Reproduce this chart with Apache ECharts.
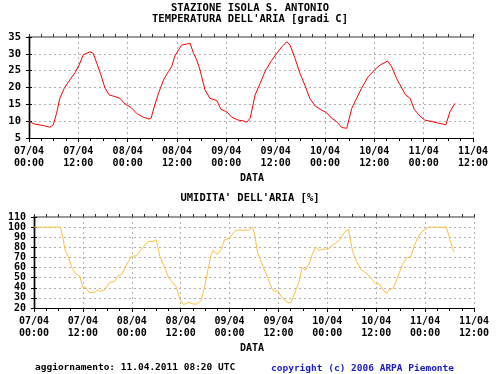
<!DOCTYPE html>
<html>
<head>
<meta charset="utf-8">
<script src="https://cdn.jsdelivr.net/npm/echarts@6/dist/echarts.min.js"></script>
<style>html,body{margin:0;padding:0;background:#fff}#c{width:500px;height:374px}</style>
</head>
<body>
<div id="c"></div>
<script>
const dateLabels = ['07/04\n00:00','07/04\n12:00','08/04\n00:00','08/04\n12:00','09/04\n00:00','09/04\n12:00','10/04\n00:00','10/04\n12:00','11/04\n00:00','11/04\n12:00'];
const tempTicks = [5,10,15,20,25,30,35];
const humTicks = [20,30,40,50,60,70,80,90,100,110];

const tempHours = [0,1.5,3.5,5.1,5.9,6.7,7.5,8.6,10,11.2,12.2,13.2,14.8,15.6,16.5,17.5,18.5,19.5,20.9,22.1,23.4,24.8,26.2,27.8,29.2,29.7,30.6,31.5,32.7,33.9,34.7,35.5,37.1,37.5,39.2,40,40.8,41.6,42.8,44,45.7,46.7,48.1,49.3,50.9,52.1,53,53.8,55,56.2,57.6,59,60.3,61.5,62.7,63.5,64.7,65.9,67.1,68.3,69.6,71.2,72.4,73.6,74.8,76.1,77.3,77.7,78.5,79.7,80.9,82.5,84.2,85.4,86.6,87.2,88.2,89.4,90.7,91.6,92.7,93.7,95.1,96.3,98,99.6,100.8,101.4,102.4,103.6];
const tempValues = [9.9,9.1,8.7,8.2,8.9,12.3,16.8,19.8,22.4,24.4,26.7,29.7,30.6,30.2,27.2,23.7,19.8,17.8,17.3,16.8,15.1,14.1,12.3,11.2,10.6,10.9,14.8,18.3,22.2,24.7,26.2,29.4,32.6,32.9,33.1,30.2,28.2,25.2,19.3,16.8,16.1,13.5,12.8,11.2,10.3,10.1,9.7,10.9,17.8,21.2,25.2,28,30.2,32.1,33.6,32.6,28.7,24.2,20.7,16.8,14.5,13.3,12.5,10.9,9.9,8.1,7.9,8.4,13.8,16.8,19.8,23.2,25.4,26.7,27.4,27.9,26.2,22.7,19.8,17.8,16.8,13.5,11.5,10.3,9.9,9.4,9.1,8.9,12.8,15.3];

const humHours = [0,6.5,7.2,7.6,8.4,9.2,10.2,11.3,11.9,12.7,13.5,14.9,15.6,16.2,17.4,18.6,19.8,20.6,21.5,22.7,23.9,25.2,26.4,28,29.2,30,30.9,32.1,33.1,34.9,35.8,36.7,38,39,40.2,41.1,41.9,42.7,43.5,43.9,44.9,45.7,46.8,48,49.2,50,51.7,52.9,53.6,54.1,54.9,56.2,57.4,58.5,59.3,59.8,60.7,61.5,62.5,63.1,64.3,65.1,65.8,66.6,67.6,68.4,69.2,69.9,70.9,72.1,73.5,74.9,76.2,77.2,77.6,78.2,79.2,80.3,81.5,82.7,83.8,84.7,85.6,86.5,87.2,88.2,89.2,90.4,91.4,92.5,93.3,94.1,95.2,96,96.6,101.2,102.1,103.1];
const humValues = [100,100,87.5,77.6,71,61.1,53.9,51.2,40.8,40.4,35.4,35.4,38.1,36.4,38.1,45.3,46.3,51.9,52.9,62.8,71,71.7,78.3,85.8,85.8,87.5,71,59.5,49.7,40.8,28.9,23.3,25.6,24,24,28.2,41.4,57.9,72.7,76.9,73.3,75.9,87.5,89.1,95.7,97.3,96.7,97.3,100,94.1,74.3,61.1,49.7,38.1,36.4,37.4,31.5,27.5,25,25.6,38.1,46.3,60.5,57.2,64.5,74.3,80.3,76.9,78.3,78.3,82.5,86.8,94.7,98,97.3,75.9,66,57.9,54.6,49.7,44,44,38.8,34.2,38.1,39.8,49.7,62.8,69.4,71,80.9,89.1,95.7,97.3,100,100,87.5,74.9];

const FONT = 'DejaVu Sans Mono';
const chart = echarts.init(document.getElementById('c'), null, {renderer: 'canvas'});

function xAxesFor(gi) {
  return [
    { type: 'value', gridIndex: gi, position: 'bottom', min: 0, max: 108, interval: 12,
      axisLine: { lineStyle: { color: '#000', width: 1 } },
      axisTick: { show: true, length: 4, lineStyle: { color: '#000' } },
      minorTick: { show: true, splitNumber: 4, length: 3, lineStyle: { color: '#000' } },
      splitLine: { show: true, lineStyle: { color: '#b0b0b0', type: [2, 3], width: 1 } },
      axisLabel: { show: true, margin: 7, fontFamily: FONT, fontWeight: 'bold', fontSize: 10, color: '#000', lineHeight: 12,
        showMinLabel: true, showMaxLabel: true, hideOverlap: false,
        formatter: v => dateLabels[Math.round(v / 12)] } },
    { type: 'value', gridIndex: gi, position: 'top', min: 0, max: 108, interval: 12,
      axisLine: { lineStyle: { color: '#999', width: 2 } },
      axisTick: { show: true, length: 3, lineStyle: { color: '#333' } },
      minorTick: { show: true, splitNumber: 4, length: 3, lineStyle: { color: '#333' } },
      splitLine: { show: false }, axisLabel: { show: false } }
  ];
}
function yAxesFor(gi, ticks, fs) {
  const mn = ticks[0], mx = ticks[ticks.length - 1], step = ticks[1] - ticks[0];
  return [
    { type: 'value', gridIndex: gi, position: 'left', min: mn, max: mx, interval: step,
      axisLine: { show: true, lineStyle: { color: '#888', width: 2.5 } },
      axisTick: { show: true, length: 3, lineStyle: { color: '#000' } },
      splitLine: { show: true, lineStyle: { color: '#b0b0b0', type: [2, 3], width: 1 } },
      axisLabel: { margin: 8, fontFamily: FONT, fontWeight: 'bold', fontSize: fs, lineHeight: 9, color: '#000',
        showMinLabel: true, showMaxLabel: true, hideOverlap: false, formatter: v => String(v) } },
    { type: 'value', gridIndex: gi, position: 'right', min: mn, max: mx, interval: step,
      axisLine: { show: true, lineStyle: { color: '#000', width: 1 } },
      axisTick: { show: true, length: 3, lineStyle: { color: '#000' } },
      splitLine: { show: false }, axisLabel: { show: false } }
  ];
}

function txt(x, y, text, opts) {
  return { type: 'text', x: x, y: y, silent: true,
    style: Object.assign({ text: text, font: 'bold 10.5px "DejaVu Sans Mono"', fill: '#000', align: 'center', verticalAlign: 'middle' }, opts || {}) };
}

const option = {
  animation: false,
  backgroundColor: '#fff',
  grid: [
    { left: 29, top: 37, width: 444, height: 101, containLabel: false },
    { left: 34, top: 217, width: 440, height: 91, containLabel: false }
  ],
  xAxis: [...xAxesFor(0), ...xAxesFor(1)],
  yAxis: [...yAxesFor(0, tempTicks, 10.5), ...yAxesFor(1, humTicks, 10)],
  series: [
    { type: 'line', xAxisIndex: 0, yAxisIndex: 0, showSymbol: false, symbol: 'none', smooth: false,
      lineStyle: { color: '#ff0000', width: 1 },
      data: tempHours.map((h, i) => [h, tempValues[i]]) },
    { type: 'line', xAxisIndex: 2, yAxisIndex: 2, showSymbol: false, symbol: 'none', smooth: false,
      lineStyle: { color: '#ffc040', width: 1 },
      data: humHours.map((h, i) => [h, humValues[i]]) }
  ],
  graphic: [
    txt(250, 8, 'STAZIONE ISOLA S. ANTONIO'),
    txt(250, 19, "TEMPERATURA DELL'ARIA [gradi C]"),
    txt(252, 178, 'DATA', { font: 'bold 10px "DejaVu Sans Mono"' }),
    txt(250, 198, "UMIDITA' DELL'ARIA [%]"),
    txt(252, 348, 'DATA', { font: 'bold 10px "DejaVu Sans Mono"' }),
    txt(35, 368, 'aggiornamento: 11.04.2011 08:20 UTC', { align: 'left', font: 'bold 9.5px "DejaVu Sans Mono"' }),
    txt(271, 369, 'copyright (c) 2006 ARPA Piemonte', { align: 'left', font: 'bold 9.5px "DejaVu Sans Mono"', fill: '#1a1acc' })
  ]
};
chart.setOption(option);
</script>
</body>
</html>
